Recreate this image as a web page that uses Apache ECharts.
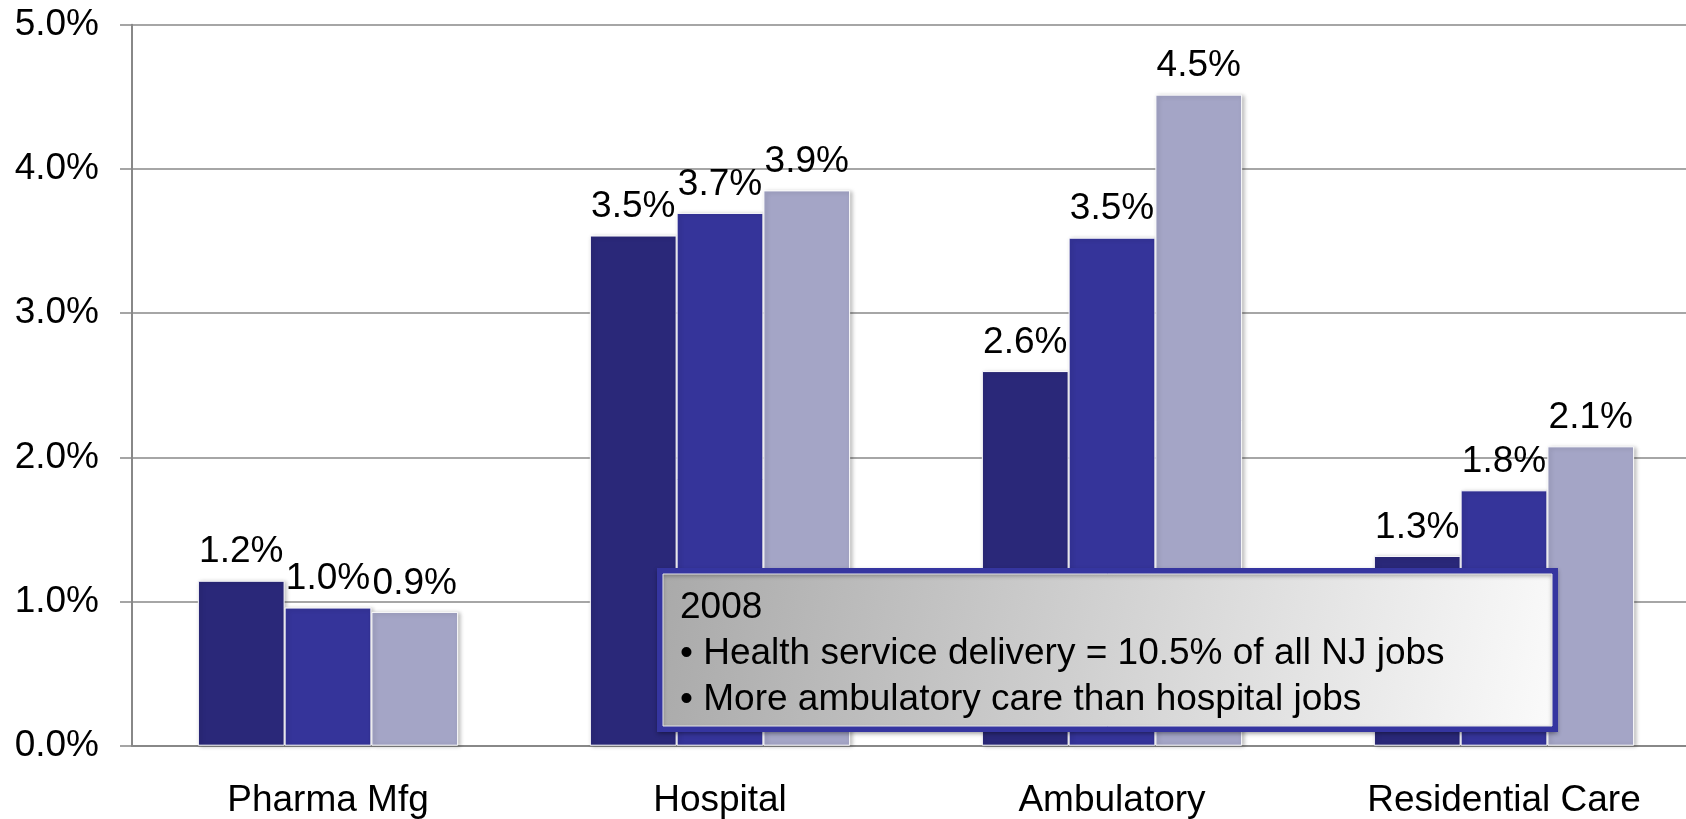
<!DOCTYPE html>
<html>
<head>
<meta charset="utf-8">
<title>NJ jobs share</title>
<script src="https://cdn.jsdelivr.net/npm/echarts@6/dist/echarts.min.js"></script>
<style>
    html,body{margin:0;padding:0;background:#fff;}
    #chart{width:1686px;height:819px;}
</style>
</head>
<body>
<div id="chart"></div>
<script>
// categories and values
const categories = ["Pharma Mfg", "Hospital", "Ambulatory", "Residential Care"];
const seriesA = [1.144, 3.538, 2.598, 1.316];
const seriesB = [0.958, 3.695, 3.523, 1.771];
const seriesC = [0.928, 3.851, 4.515, 2.076];
const labelsA = ["1.2%", "3.5%", "2.6%", "1.3%"];
const labelsB = ["1.0%", "3.7%", "3.5%", "1.8%"];
const labelsC = ["0.9%", "3.9%", "4.5%", "2.1%"];
const yTicks = [0, 1, 2, 3, 4, 5];
const noteLines = ["2008", "• Health service delivery = 10.5% of all NJ jobs", "• More ambulatory care than hospital jobs"];

const font = "Arial, 'Liberation Sans', sans-serif";

function makeSeries(values, labels, color){
    return {
        type: "bar",
        data: values,
        barGap: "0%",
        barCategoryGap: "33.6%",
        itemStyle: {
            color: color,
            borderColor: "#ffffff",
            borderWidth: 1,
            shadowColor: "rgba(0,0,0,0.25)",
            shadowBlur: 4,
            shadowOffsetX: 2,
            shadowOffsetY: 1
        },
        label: {
            show: true,
            position: "top",
            distance: 10,
            fontSize: 37,
            fontFamily: font,
            color: "#000",
            formatter: function(p){ return labels[p.dataIndex]; }
        }
    };
}

let myChart = echarts.init(document.getElementById("chart"));
myChart.setOption({
    animation: false,
    grid: { left: 132, right: -14, top: 24.7, bottom: 73.3, containLabel: false, outerBoundsMode: "none" },
    xAxis: {
        type: "category",
        data: categories,
        axisLine: { lineStyle: { color: "#888", width: 2 } },
        axisTick: { length: 11, lineStyle: { color: "#888", width: 2 } },
        axisLabel: { fontSize: 37, fontFamily: font, color: "#000", margin: 37 }
    },
    yAxis: {
        type: "value",
        min: yTicks[0],
        max: yTicks[yTicks.length - 1],
        interval: 1,
        axisLine: { show: true, lineStyle: { color: "#888", width: 2 } },
        axisTick: { show: true, length: 12, lineStyle: { color: "#888", width: 1.5 } },
        splitLine: { lineStyle: { color: "#888", width: 1.5 } },
        axisLabel: {
            fontSize: 37, fontFamily: font, color: "#000", margin: 33,
            formatter: function(v){ return v.toFixed(1) + "%"; }
        }
    },
    series: [
        makeSeries(seriesA, labelsA, "#2a2879"),
        makeSeries(seriesB, labelsB, "#35349a"),
        makeSeries(seriesC, labelsC, "#a4a5c6")
    ],
    //注释框
    graphic: [
        {
            type: "rect",
            z: 100,
            shape: { x: 660, y: 571, width: 895, height: 158 },
            style: {
                fill: new echarts.graphic.LinearGradient(0, 0, 1, 1, [
                    { offset: 0, color: "#a9a9a9" },
                    { offset: 1, color: "#fbfbfb" }
                ]),
                stroke: "#3535a0",
                lineWidth: 6,
                shadowColor: "rgba(0,0,0,0.3)",
                shadowBlur: 4,
                shadowOffsetY: 2
            }
        },
        {
            type: "rect",
            z: 101,
            shape: { x: 663, y: 574, width: 889, height: 152 },
            style: { fill: null, stroke: "#e8e8e8", lineWidth: 1 }
        },
        {
            type: "text",
            z: 102,
            x: 680,
            y: 585,
            style: {
                text: noteLines.join("\n"),
                fontSize: 37,
                fontFamily: font,
                fill: "#000",
                lineHeight: 46,
                verticalAlign: "top"
            }
        }
    ]
});
</script>
</body>
</html>
